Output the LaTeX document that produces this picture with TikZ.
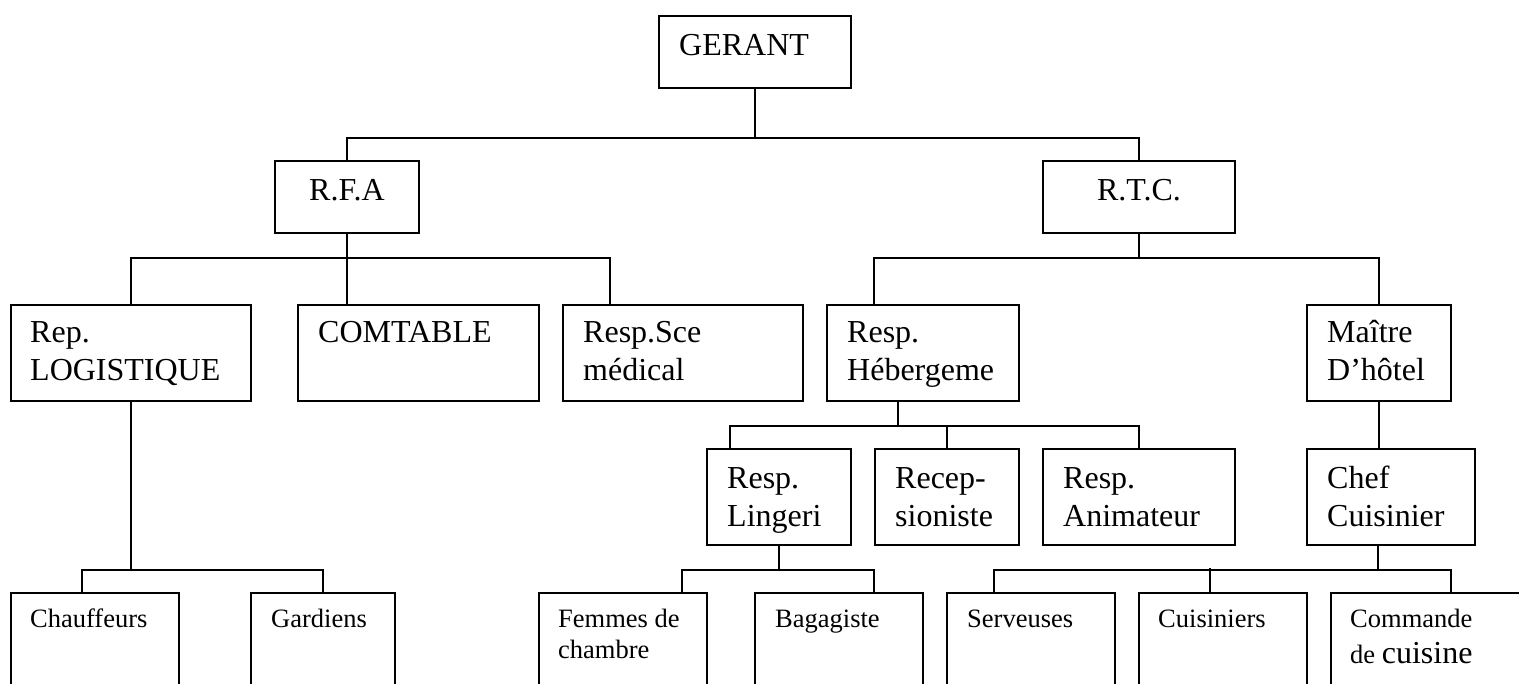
\documentclass[tikz,border=0pt]{standalone}
\usepackage{fontspec}
\setmainfont{Liberation Serif}
\usetikzlibrary{calc}
\begin{document}
\begin{tikzpicture}[
  x=1pt,y=1pt,
  orgbox/.style={draw, line width=2pt, inner sep=0pt, anchor=north west},
  conn/.style={line width=2pt},
  bigtxt/.style={font=\fontsize{32}{38}\selectfont, inner sep=0pt, align=left},
  smalltxt/.style={font=\fontsize{26.5}{31}\selectfont, inner sep=0pt, align=left}
]
\clip (0,0) rectangle (1519,-684);
\fill[white] (0,0) rectangle (1519,-684);
% boxes
\node[orgbox, minimum width=192pt, minimum height=72pt] (gerant) at (658,-15) {};
\node[orgbox, minimum width=144pt, minimum height=72pt] (rfa) at (274,-160) {};
\node[orgbox, minimum width=192pt, minimum height=72pt] (rtc) at (1042,-160) {};
\node[orgbox, minimum width=240pt, minimum height=96pt] (rep) at (10,-304) {};
\node[orgbox, minimum width=241pt, minimum height=96pt] (compt) at (297,-304) {};
\node[orgbox, minimum width=240pt, minimum height=96pt] (sce) at (562,-304) {};
\node[orgbox, minimum width=192pt, minimum height=96pt] (heb) at (826,-304) {};
\node[orgbox, minimum width=144pt, minimum height=96pt] (maitre) at (1306,-304) {};
\node[orgbox, minimum width=144pt, minimum height=96pt] (ling) at (706,-448) {};
\node[orgbox, minimum width=144pt, minimum height=96pt] (recep) at (874,-448) {};
\node[orgbox, minimum width=192pt, minimum height=96pt] (anim) at (1042,-448) {};
\node[orgbox, minimum width=168pt, minimum height=96pt] (chef) at (1306,-448) {};
\node[orgbox, minimum width=168pt, minimum height=130pt] (chauf) at (10,-592) {};
\node[orgbox, minimum width=144pt, minimum height=130pt] (gard) at (250,-592) {};
\node[orgbox, minimum width=168pt, minimum height=130pt] (femmes) at (538,-592) {};
\node[orgbox, minimum width=168pt, minimum height=130pt] (bag) at (754,-592) {};
\node[orgbox, minimum width=168pt, minimum height=130pt] (serv) at (946,-592) {};
\node[orgbox, minimum width=168pt, minimum height=130pt] (cuis) at (1138,-592) {};
\node[orgbox, minimum width=250pt, minimum height=130pt] (comm) at (1330,-592) {};
% texts (base anchor = baseline of the last line)
\node[bigtxt, anchor=base west] (t-gerant) at ($(gerant.north west)+(21,-41)$) {GERANT};
\node[bigtxt, anchor=base] (t-rfa) at ($(rfa.north)+(0,-41)$) {R.F.A};
\node[bigtxt, anchor=base] (t-rtc) at ($(rtc.north)+(0,-41)$) {R.T.C.};
\node[bigtxt, anchor=base west] (t-rep) at ($(rep.north west)+(20,-77)$) {Rep.\\LOGISTIQUE};
\node[bigtxt, anchor=base west] (t-compt) at ($(compt.north west)+(21,-39)$) {COMTABLE};
\node[bigtxt, anchor=base west] (t-sce) at ($(sce.north west)+(21,-77)$) {Resp.Sce\\médical};
\node[bigtxt, anchor=base west] (t-heb) at ($(heb.north west)+(21,-77)$) {Resp.\\Hébergeme};
\node[bigtxt, anchor=base west] (t-maitre) at ($(maitre.north west)+(21,-77)$) {Maître\\D’hôtel};
\node[bigtxt, anchor=base west] (t-ling) at ($(ling.north west)+(21,-78)$) {Resp.\\Lingeri};
\node[bigtxt, anchor=base west] (t-recep) at ($(recep.north west)+(21,-78)$) {Recep-\\sioniste};
\node[bigtxt, anchor=base west] (t-anim) at ($(anim.north west)+(21,-78)$) {Resp.\\Animateur};
\node[bigtxt, anchor=base west] (t-chef) at ($(chef.north west)+(21,-78)$) {Chef\\Cuisinier};
\node[smalltxt, anchor=base west] (t-chauf) at ($(chauf.north west)+(20,-35)$) {Chauffeurs};
\node[smalltxt, anchor=base west] (t-gard) at ($(gard.north west)+(21,-35)$) {Gardiens};
\node[smalltxt, anchor=base west] (t-femmes) at ($(femmes.north west)+(20,-66)$) {Femmes de\\chambre};
\node[smalltxt, anchor=base west] (t-bag) at ($(bag.north west)+(21,-35)$) {Bagagiste};
\node[smalltxt, anchor=base west] (t-serv) at ($(serv.north west)+(21,-35)$) {Serveuses};
\node[smalltxt, anchor=base west] (t-cuis) at ($(cuis.north west)+(20,-35)$) {Cuisiniers};
\node[smalltxt, anchor=base west] (t-comm) at ($(comm.north west)+(20,-71)$) {Commande\\[5pt]de {\fontsize{32}{38}\selectfont cuisine}};
% connectors
\draw[conn] (gerant.south) -- ++(0,-49) coordinate (b0);
\draw[conn] (rfa.north) |- (b0) -| (rtc.north);
\draw[conn] (rfa.south) -- (rfa.south |- compt.north);
\draw[conn] (rfa.south) -- ++(0,-24) coordinate (b1);
\draw[conn] (rep.north) |- (b1) -| ([xshift=48pt]sce.north west);
\draw[conn] (rtc.south) -- ++(0,-24) coordinate (b2);
\draw[conn] ([xshift=48pt]heb.north west) |- (b2) -| (maitre.north);
\draw[conn] ([xshift=72pt]heb.south west) -- ++(0,-24) coordinate (b3);
\draw[conn] ([xshift=24pt]ling.north west) |- (b3) -| (anim.north);
\draw[conn] (recep.north) -- (recep.north |- b3);
\draw[conn] (maitre.south) -- (maitre.south |- chef.north);
\draw[conn] (rep.south) -- ++(0,-168) coordinate (b4);
\draw[conn] ([xshift=72pt]chauf.north west) |- (b4) -| (gard.north);
\draw[conn] (ling.south) -- ++(0,-24) coordinate (b5);
\draw[conn] ([xshift=144pt]femmes.north west) |- (b5) -| ([xshift=120pt]bag.north west);
\draw[conn] ([xshift=72pt]chef.south west) -- ++(0,-24) coordinate (b6);
\draw[conn] ([xshift=48pt]serv.north west) |- (b6) -| ([xshift=121pt]comm.north west);
\draw[conn] ([xshift=72pt]cuis.north west) -- ++(0,24);
\end{tikzpicture}
\end{document}
